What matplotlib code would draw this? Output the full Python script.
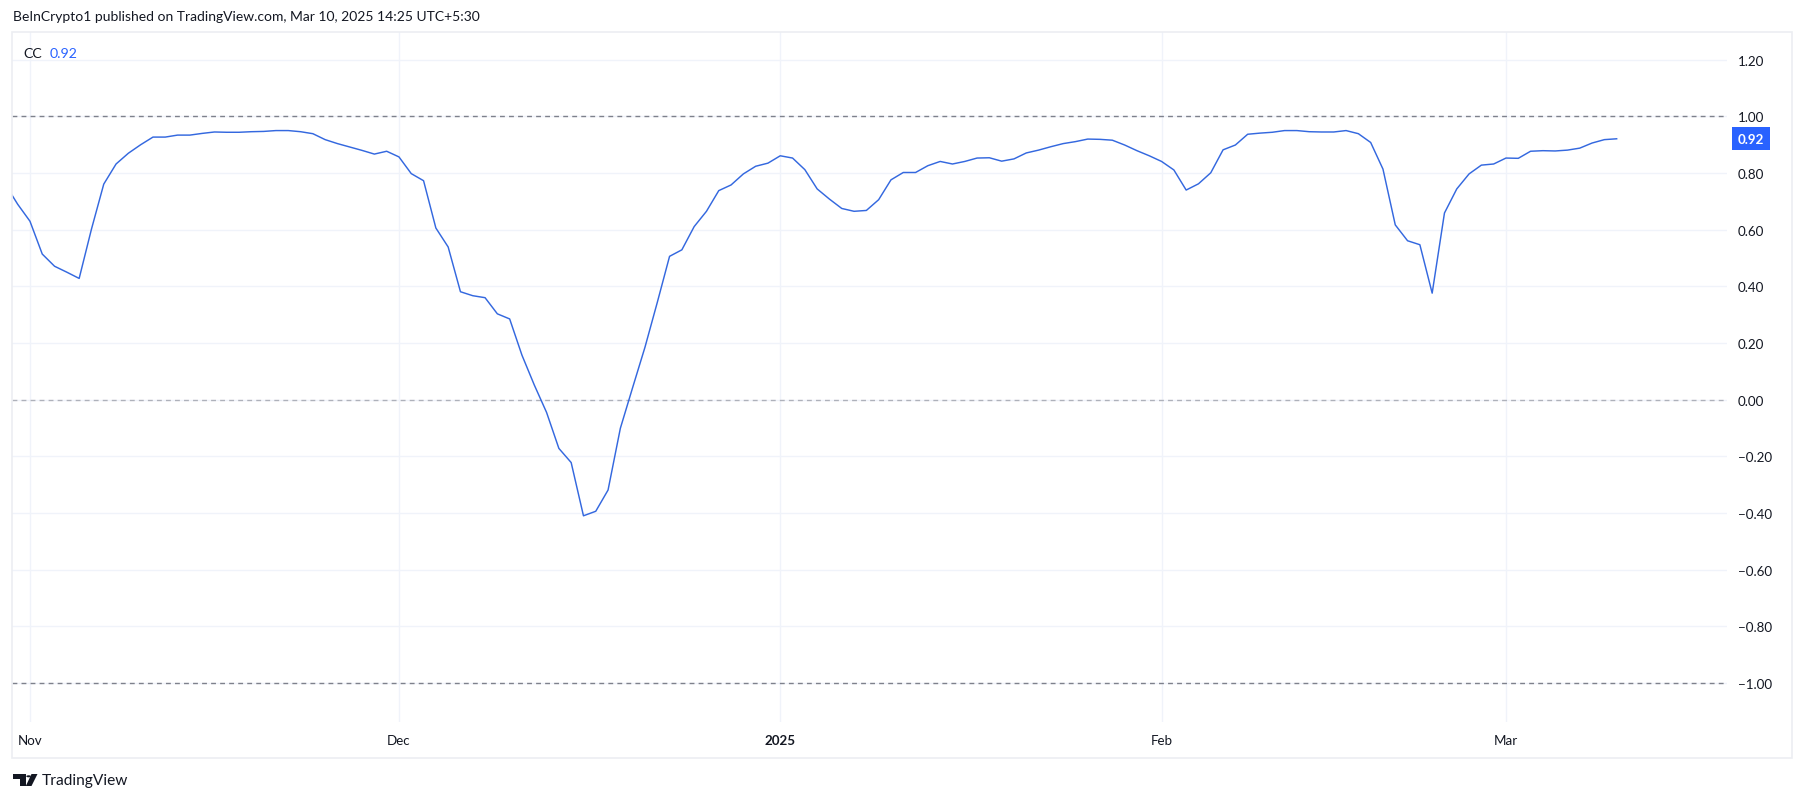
import numpy as np
import pandas as pd
import matplotlib
matplotlib.use("Agg")
import matplotlib.pyplot as plt
import matplotlib.transforms as mtransforms
from matplotlib.patches import Rectangle, Polygon, Circle

plt.rcParams['font.family'] = ['Lato', 'DejaVu Sans']

# CC indicator, daily values from Oct 30 2024 to Mar 10 2025
start_date = "2024-10-30"
cc_values = [
    0.76, 0.69, 0.63, 0.514, 0.471, 0.45, 0.428, 0.602, 0.761, 0.832,
    0.87, 0.900, 0.927, 0.927, 0.934, 0.934, 0.94, 0.945, 0.944, 0.944,
    0.946, 0.947, 0.950, 0.950, 0.946, 0.939, 0.918, 0.904, 0.892, 0.880,
    0.867, 0.877, 0.857, 0.798, 0.773, 0.606, 0.539, 0.381, 0.367, 0.360,
    0.303, 0.285, 0.157, 0.052, -0.045, -0.172, -0.222, -0.410, -0.394, -0.319,
    -0.101, 0.043, 0.185, 0.343, 0.506, 0.529, 0.611, 0.665, 0.738, 0.758,
    0.797, 0.824, 0.835, 0.861, 0.853, 0.812, 0.744, 0.708, 0.675, 0.665,
    0.668, 0.706, 0.776, 0.802, 0.802, 0.826, 0.841, 0.832, 0.841, 0.853,
    0.854, 0.842, 0.850, 0.871, 0.881, 0.893, 0.904, 0.911, 0.920, 0.919,
    0.916, 0.899, 0.879, 0.861, 0.841, 0.811, 0.740, 0.762, 0.801, 0.882,
    0.899, 0.937, 0.941, 0.944, 0.950, 0.950, 0.946, 0.945, 0.945, 0.950,
    0.939, 0.908, 0.814, 0.617, 0.561, 0.547, 0.376, 0.659, 0.744, 0.797,
    0.828, 0.832, 0.853, 0.852, 0.877, 0.879, 0.878, 0.881, 0.888, 0.906,
    0.918, 0.921,
]
dates = pd.date_range(start_date, periods=len(cc_values), freq="D")

month_ticks = pd.to_datetime(["2024-11-01", "2024-12-01", "2025-01-01", "2025-02-01", "2025-03-01"])
month_labels = ["Nov", "Dec", "2025", "Feb", "Mar"]
y_ticks = [1.2, 1.0, 0.8, 0.6, 0.4, 0.2, 0.0, -0.2, -0.4, -0.6, -0.8, -1.0]
levels = [1.0, 0.0, -1.0]

W, H = 1805, 803
fig = plt.figure(figsize=(W / 100, H / 100), dpi=100)
fig.patch.set_facecolor("white")


def fr(x0, y0, x1, y1):
    # pixel box (top-left origin) -> figure fraction rect
    return [x0 / W, 1 - y1 / H, (x1 - x0) / W, (y1 - y0) / H]


def px(x, y):
    return (x / W, 1 - y / H)


# outer chart frame
fig.patches.append(Rectangle(px(12, 759), (1792 - 12) / W, (759 - 33) / H,
                             transform=fig.transFigure, fill=False,
                             ec="#eceef2", lw=1.2))

ax = fig.add_axes(fr(12, 33, 1727, 723))
for s in ax.spines.values():
    s.set_visible(False)

ax.plot(dates, cc_values, color="#3468df", lw=1.05, zorder=3)

x0 = pd.Timestamp("2024-11-01")
ax.set_xlim(x0 - pd.Timedelta(days=1.46), x0 + pd.Timedelta(days=137.97))
ax.set_ylim(-1.138, 1.298)

ax.set_yticks(y_ticks)
ax.set_yticklabels([f"{v:.2f}".replace("-", "\u2212") for v in y_ticks])
ax.yaxis.tick_right()
ax.tick_params(axis="y", length=0, pad=8, labelsize=9.6, labelcolor="#131722")

ax.set_xticks(month_ticks)
ax.set_xticklabels(month_labels)
ax.tick_params(axis="x", length=0, pad=9, labelsize=9.6, labelcolor="#131722")
for lbl in ax.get_xticklabels():
    if lbl.get_text() == "2025":
        lbl.set_fontweight("bold")

ax.grid(True, color="#f0f3fa", lw=1.0, zorder=0)

for lv in levels:
    ax.axhline(lv, color="#787b86", lw=1.0, ls=(0, (3.5, 3.0)),
               alpha=0.55 if lv == 0 else 0.95, zorder=2)

# last value label on the price scale
trans = mtransforms.blended_transform_factory(ax.transAxes, ax.transData)
ax.text(1.0 + 11 / 1715, cc_values[-1], f"{cc_values[-1]:.2f}", transform=trans,
        ha="left", va="center", color="white", fontsize=9.6, fontweight="bold",
        bbox=dict(boxstyle="square,pad=0.42", fc="#2962ff", ec="none"),
        clip_on=False, zorder=5)

# header and legend
fig.text(13 / W, 1 - 17 / H, "BeInCrypto1 published on TradingView.com, Mar 10, 2025 14:25 UTC+5:30",
         ha="left", va="center", fontsize=10.0, color="#131722")
fig.text(23 / W, 1 - 54 / H, "CC", ha="left", va="center", fontsize=10.2, color="#131722")
fig.text(50 / W, 1 - 54 / H, f"{cc_values[-1]:.2f}", ha="left", va="center",
         fontsize=10.2, color="#2962ff")

# TradingView logo
logo_col = "#131722"
fig.patches.append(Polygon([px(13, 775), px(26, 775), px(26, 787), px(20, 787),
                            px(20, 779.5), px(13, 779.5)],
                           closed=True, transform=fig.transFigure, fc=logo_col, ec="none"))
fig.patches.append(Circle(px(28.6, 777.3), 2.3 / W, transform=fig.transFigure,
                          fc=logo_col, ec="none"))
fig.patches.append(Polygon([px(31.5, 775), px(37.5, 775), px(31.5, 787), px(25.8, 787)],
                           closed=True, transform=fig.transFigure, fc=logo_col, ec="none"))
fig.text(42 / W, 1 - 781 / H, "TradingView", ha="left", va="center",
         fontsize=11.2, color="#131722")

fig.savefig("out.png", dpi=100, facecolor="white")
